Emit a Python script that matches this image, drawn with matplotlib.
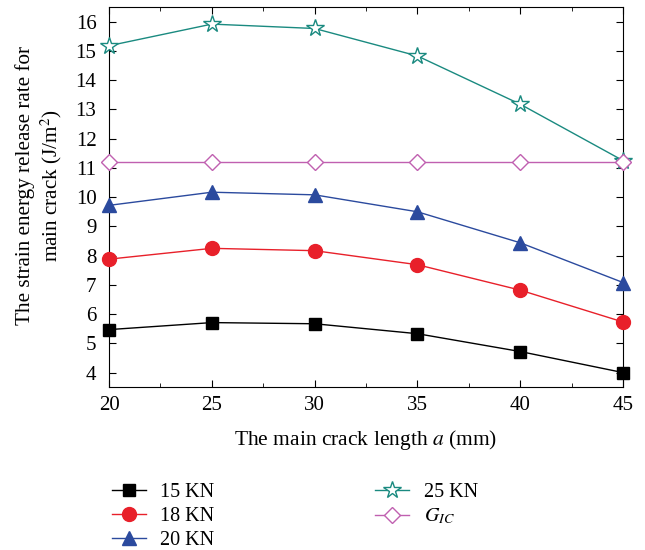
import matplotlib
matplotlib.use('Agg')
import matplotlib.pyplot as plt
from matplotlib.ticker import MultipleLocator

plt.rcParams['font.family'] = ['Liberation Serif', 'DejaVu Serif']
plt.rcParams['mathtext.fontset'] = 'stix'

crack_len = [20, 25, 30, 35, 40, 45]
g_15kn = [5.47, 5.71, 5.67, 5.33, 4.72, 4.0]
g_18kn = [7.88, 8.25, 8.17, 7.69, 6.82, 5.73]
g_20kn = [9.72, 10.17, 10.08, 9.5, 8.44, 7.08]
g_25kn = [15.18, 15.92, 15.77, 14.83, 13.18, 11.25]
g_ic = [11.2, 11.2, 11.2, 11.2, 11.2, 11.2]

fig = plt.figure(figsize=(6.45, 5.5), dpi=100)
ax = fig.add_axes([0.169, 0.296, 0.797, 0.691])

ax.plot(crack_len, g_15kn, color='black', lw=1.0, marker='s', ms=9, label='15 KN', clip_on=False, zorder=3)
ax.plot(crack_len, g_18kn, color='#e8202a', lw=1.0, marker='o', ms=10, label='18 KN', clip_on=False, zorder=3)
ax.plot(crack_len, g_20kn, color='#2b4a9e', lw=1.0, marker='^', ms=10, label='20 KN', clip_on=False, zorder=3)
ax.plot(crack_len, g_25kn, color='#1a8a80', lw=1.0, marker='*', ms=13, mfc='white', mew=1.0,
        label='25 KN', clip_on=False, zorder=3)
ax.plot(crack_len, g_ic, color='#c060b0', lw=1.0, marker='D', ms=8.5, mfc='white', mew=1.0,
        label='$G_{IC}$', clip_on=False, zorder=3)

ax.set_xlim(20, 45)
ax.set_ylim(3.5, 16.5)
ax.xaxis.set_major_locator(MultipleLocator(5))
ax.xaxis.set_minor_locator(MultipleLocator(2.5))
ax.yaxis.set_major_locator(MultipleLocator(1))
ax.tick_params(which='both', direction='in', top=True, right=True, labelsize=15)
ax.tick_params(which='major', length=5)
ax.tick_params(which='minor', length=3)
ax.tick_params(axis='y', pad=9)
ax.tick_params(axis='x', pad=6)

ax.set_xlabel('The main crack length $a$ (mm)', fontsize=15.5, labelpad=10)
ax.set_ylabel('The strain energy release rate for\nmain crack (J/m$^2$)', fontsize=15.2)
ax.yaxis.set_label_coords(-0.088, 0.53)

fig.legend(loc='upper left', bbox_to_anchor=(0.145, 0.155), ncol=2, frameon=False, fontsize=14.5,
           handlelength=1.7, columnspacing=8.0, labelspacing=0.25, handletextpad=0.7)

fig.savefig('out.png', dpi=100)
